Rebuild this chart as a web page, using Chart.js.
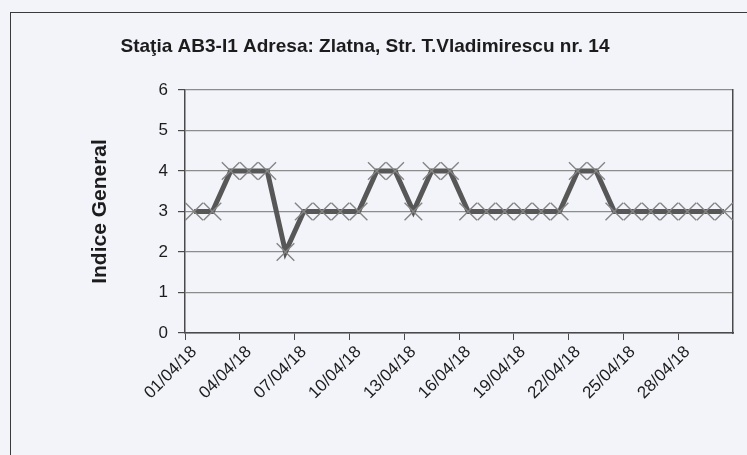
<!DOCTYPE html>
<html>
<head>
<meta charset="utf-8">
<script src="https://cdn.jsdelivr.net/npm/chart.js@4.4.0/dist/chart.umd.min.js"></script>
<style>
html, body { margin: 0; padding: 0; background: #f2f4f9; }
#frame { position: absolute; left: 10px; top: 12px; width: 900px; height: 600px;
         border-left: 1.5px solid #3a3a3a; border-top: 1.5px solid #3a3a3a; }
#wrap { position: absolute; left: 0; top: 0; width: 747px; height: 455px; }
</style>
</head>
<body>
<div id="frame"></div>
<div id="wrap"><canvas id="chart"></canvas></div>
<script>
// Statia AB3-I1, indice general zilnic, aprilie 2018

const chartTitle = 'Staţia AB3-I1 Adresa: Zlatna, Str. T.Vladimirescu nr. 14';
const axisTitle = 'Indice General';

const days = [
    '01/04/18','02/04/18','03/04/18','04/04/18','05/04/18','06/04/18',
    '07/04/18','08/04/18','09/04/18','10/04/18','11/04/18','12/04/18',
    '13/04/18','14/04/18','15/04/18','16/04/18','17/04/18','18/04/18',
    '19/04/18','20/04/18','21/04/18','22/04/18','23/04/18','24/04/18',
    '25/04/18','26/04/18','27/04/18','28/04/18','29/04/18','30/04/18'
];

const indice = [3,3,4,4,4,2,3,3,3,3,4,4,3,4,4,3,3,3,3,3,3,4,4,3,3,3,3,3,3,3];

const yMin = 0;
const yMax = 6;
const labelEvery = 3;

const ink = '#1c1c1c';
const family = '"Liberation Sans", Arial, sans-serif';

// title sits left of the plot centre, like in the original sheet
const titlePlugin = {
    id: 'stationTitle',
    afterDraw(chart) {
        const c = chart.ctx;
        c.save();
        c.font = 'bold 19px ' + family;
        c.fillStyle = ink;
        c.textAlign = 'center';
        c.textBaseline = 'middle';
        c.fillText(chartTitle, 365, 47);
        c.restore();
    }
};

const ctx = document.getElementById('chart');
new Chart(ctx, {
    type: 'line',
    plugins: [titlePlugin],
    data: {
        labels: days,
        datasets: [{
            label: axisTitle,
            data: indice,
            borderColor: '#575757',
            borderWidth: 5,
            tension: 0,
            pointStyle: 'crossRot',
            pointRadius: 12.5,
            pointBorderColor: '#858585',
            pointBorderWidth: 1.4,
            pointBackgroundColor: 'rgba(0,0,0,0)',
            clip: false
        }]
    },
    options: {
        responsive: true,
        maintainAspectRatio: false,
        animation: false,
        layout: { padding: { left: 80, right: 10, top: 90, bottom: 0 } },
        plugins: {
            legend: { display: false },
            tooltip: { enabled: false }
        },
        scales: {
            x: {
                offset: true,
                grid: {
                    offset: true,
                    drawOnChartArea: false,
                    tickLength: 7,
                    tickColor: c => (c.index % labelEvery === 0 ? '#4a4a4a' : 'rgba(0,0,0,0)')
                },
                border: { color: '#4a4a4a', width: 1.5 },
                ticks: {
                    autoSkip: false,
                    maxRotation: 45,
                    minRotation: 45,
                    padding: 2,
                    color: ink,
                    font: { family: family, size: 17 },
                    callback: (v, i) => (i % labelEvery === 0 ? days[i] : '')
                },
                afterFit(s) { s.height = 122; }
            },
            y: {
                min: yMin,
                max: yMax,
                ticks: { stepSize: 1, padding: 10, color: ink, font: { family: family, size: 17 } },
                grid: { color: '#8c8c8c', lineWidth: 1.2, tickLength: 7, tickColor: '#4a4a4a' },
                border: { color: '#4a4a4a', width: 1.5 },
                title: {
                    display: true,
                    text: axisTitle,
                    color: ink,
                    font: { family: family, size: 21, weight: 'bold' },
                    padding: { top: 8, bottom: 0 }
                },
                afterFit(s) { s.width = 105; }
            },
            yr: {
                position: 'right',
                grid: { drawOnChartArea: false, drawTicks: false },
                ticks: { display: false },
                border: { color: '#4a4a4a', width: 1.5 },
                afterFit(s) { s.width = 0; }
            }
        }
    }
});
</script>
</body>
</html>
